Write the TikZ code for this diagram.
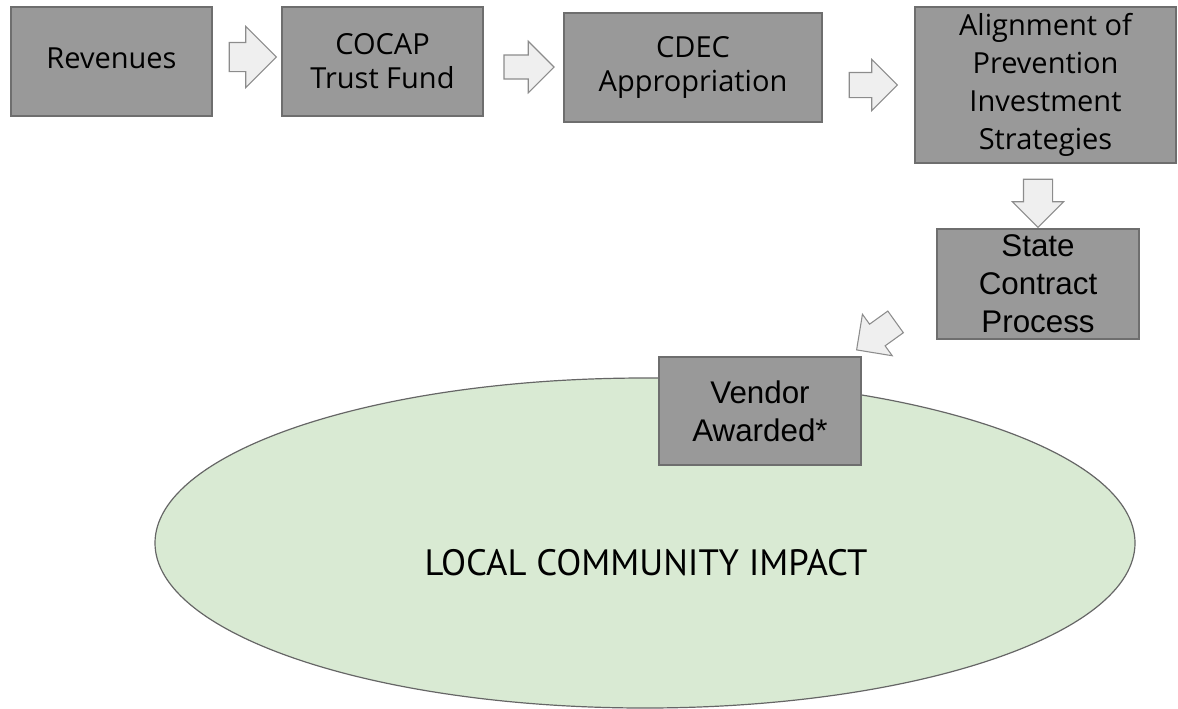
\documentclass[tikz,border=0pt]{standalone}
\usepackage{fontspec}
\setmainfont{PT Sans}
\newfontfamily\boxfont{Open Sans}
\newfontfamily\arialfont{Liberation Sans}
\usetikzlibrary{shapes.arrows,shapes.geometric}
\definecolor{boxGray}{HTML}{999999}
\definecolor{boxLine}{HTML}{6E6E6E}
\definecolor{arrFill}{HTML}{EFEFEF}
\definecolor{arrLine}{HTML}{8C8C8C}
\definecolor{impGreen}{HTML}{D9EAD3}
\definecolor{impLine}{HTML}{666666}
\tikzstyle{nBox}=[rectangle,draw=boxLine,fill=boxGray,inner sep=0pt,align=center,line width=0.9pt,font=\boxfont\fontsize{21.75}{26}\selectfont]
\tikzstyle{nArial}=[nBox,font=\arialfont\fontsize{23.5}{28.5}\selectfont]
\tikzstyle{aS}=[single arrow,draw=arrLine,fill=arrFill,line width=0.8pt,inner xsep=0pt,inner ysep=9pt,single arrow head extend=9.75pt,minimum width=37.5pt,minimum height=36pt]
\tikzstyle{eS}=[ellipse,draw=impLine,fill=impGreen,inner sep=0pt,line width=0.9pt,minimum width=735pt,minimum height=247.5pt]

\begin{document}
\begin{tikzpicture}[x=0.75pt,y=-0.75pt]%[1 unit = 1 px]
                \useasboundingbox (0,0) rectangle (1178,708);

                % community ellipse, under the vendor box
                \draw (645,543) node[eS] (e0) {};
                \draw (646,563) node[font=\fontsize{27.5}{30}\selectfont] (t0) {LOCAL COMMUNITY IMPACT};

                % top row
                \draw (111.5,61.5) node[nBox,minimum width=150.75pt,minimum height=81.75pt] (n0) {Revenues\vphantom{g}};
                \draw (382.5,61.5) node[nBox,minimum width=150.75pt,minimum height=81.75pt,font=\boxfont\fontsize{21.75}{25.5}\selectfont] (n1) {COCAP\\Trust Fund};
                \draw (693,67.5) node[nBox,minimum width=193.5pt,minimum height=81.75pt] (n2) {CDEC\\Appropriation};
                \draw (1045.5,85) node[nBox,minimum width=195.75pt,minimum height=117pt,font=\boxfont\fontsize{21.75}{28.5}\selectfont] (n3) {Alignment of\\Prevention\\Investment\\Strategies};

                % contract and vendor
                \draw (1038,284) node[nArial,minimum width=151.5pt,minimum height=82.5pt] (n4) {State\\Contract\\Process};
                \draw (760,411) node[nArial,minimum width=151.5pt,minimum height=81pt] (n5) {Vendor\\Awarded*};

                % block arrows
                \draw (245.5,57) node[aS,minimum height=35.25pt,minimum width=45pt,inner ysep=10.5pt,single arrow head extend=12pt] (a0) {};
                \draw (523,67) node[aS,minimum height=37.5pt,inner ysep=8.6pt,single arrow head extend=10.3pt] (a1) {};
                \draw (867,85) node[aS] (a2) {};
                \draw (1038,196) node[aS,rotate=-90,inner ysep=10.5pt,single arrow head extend=8.25pt] (a3) {};
                \draw (881.5,332) node[aS,rotate=215.7,inner ysep=9.6pt,single arrow head extend=9.15pt] (a4) {};

        \end{tikzpicture}
\end{document}
